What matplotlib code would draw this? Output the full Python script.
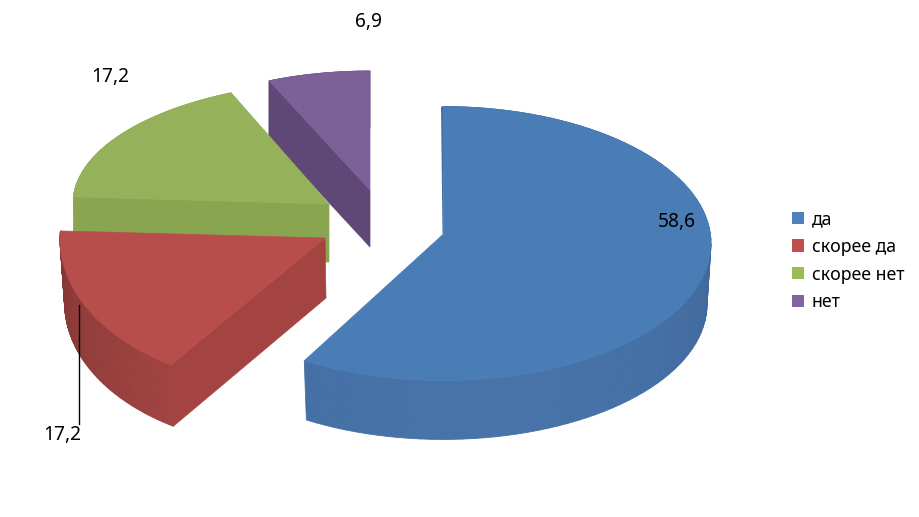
import numpy as np
import matplotlib
matplotlib.use("Agg")
import matplotlib.pyplot as plt
from matplotlib.patches import Polygon, Patch
from matplotlib.collections import PolyCollection
from matplotlib.colors import to_rgb

categories = ["да", "скорее да", "скорее нет", "нет"]
values = [58.6, 17.2, 17.2, 6.9]

plt.rcParams['font.family'] = ['Noto Sans', 'DejaVu Sans']

legend_colors = ["#4F81BD", "#C0504D", "#9BBB59", "#8064A2"]
top_colors = ["#4A7CB6", "#B84E4B", "#95B159", "#7E6099"]
cut_colors = ["#426FA5", "#A34442", "#8AA550", "#5F4876"]
wall_dark = ["#41699B", "#853735", "#8AA550", "#5F4876"]
wall_light = ["#4773A9", "#A04341", "#8AA550", "#5F4876"]

# pseudo-3D layout of each exploded slice, in figure pixels
centers = [(443, 243.5), (290, 239), (346, 203.5), (370, 177)]
radii = [(268, 137), (230, 147), (273, 122), (240, 106)]
apexes = [(443.5, 234), (325, 238), (329, 204), (370, 190)]
depths = [61, 64, 58, 57]
wall_scale = [0.985, 0.98, 0.99, 1.0]
label_pos = [(677, 222), (62, 435), (110, 77), (369, 22)]

fig = plt.figure(figsize=(9.2, 5.17), dpi=100, facecolor="white")
ax = fig.add_axes([0, 0, 1, 1])
ax.set_xlim(0, 920)
ax.set_ylim(517, 0)
ax.axis("off")

fractions = np.array(values) / sum(values)
edges = np.concatenate([[0], np.cumsum(fractions)]) * 2 * np.pi


def rim(i, theta, drop=0.0, scale=1.0):
    cx, cy = centers[i]
    rx, ry = radii[i]
    return np.column_stack([cx + scale * rx * np.sin(theta),
                            cy + drop - scale * ry * np.cos(theta)])


for i in [3, 2, 1, 0]:
    z = 10 + (3 - i) * 3
    theta = np.linspace(edges[i], edges[i + 1], 90)
    d = depths[i]
    top = rim(i, theta)
    low = rim(i, theta, d, wall_scale[i])
    apx, apy = apexes[i]
    # outer wall, split in facets so the shading varies along the rim
    quads = [[top[k], top[k + 1], low[k + 1], low[k]] for k in range(len(theta) - 1)]
    dark, light = np.array(to_rgb(wall_dark[i])), np.array(to_rgb(wall_light[i]))
    if i == 0:
        t = np.clip(np.abs(theta[:-1] - np.radians(170)) / np.radians(75), 0, 1) ** 2
    elif i == 1:
        t = np.linspace(0, 1, len(quads))
    else:
        t = np.zeros(len(quads))
    cols = [light + (dark - light) * v for v in t]
    ax.add_collection(PolyCollection(quads, facecolors=cols, edgecolors=cols, linewidths=0.6, zorder=z))
    # cut faces toward the viewer
    if i in (1, 2, 3):
        near = low[0] if i == 1 else top[0] + [0, d]
        ax.add_patch(Polygon([top[0], (apx, apy), (apx + (i == 1), apy + d - 4 * (i == 1)), near],
                             facecolor=cut_colors[i], edgecolor=cut_colors[i], lw=0.5, zorder=z + 1))
    else:
        r0 = rim(i, np.array([edges[0]]))[0]
        ax.add_patch(Polygon([r0 + [-2, 0], (apx - 1, apy), (apx, apy), r0],
                             facecolor=cut_colors[0], edgecolor="none", zorder=z + 1))
    ax.add_patch(Polygon(np.vstack([[(apx, apy)], top]), closed=True, facecolor=top_colors[i],
                         edgecolor=top_colors[i], lw=0.5, zorder=z + 2))

# leader line of the lower-left label
ax.plot([79, 79], [305, 424], color="black", lw=1.0, zorder=30)

for v, (x, y) in zip(values, label_pos):
    ax.text(x, y, f"{v}".replace(".", ","), ha="center", va="center",
            fontsize=13.8, color="black", zorder=31)

handles = [Patch(facecolor=c, edgecolor="none", label=n) for c, n in zip(legend_colors, categories)]
ax.legend(handles=handles, loc="upper left", bbox_to_anchor=(792 / 920, 1 - 210 / 517),
          frameon=False, fontsize=12.8, handlelength=0.68, handleheight=0.68,
          handletextpad=0.42, labelspacing=0.55, borderpad=0, borderaxespad=0)

fig.savefig("out.png", dpi=100)
